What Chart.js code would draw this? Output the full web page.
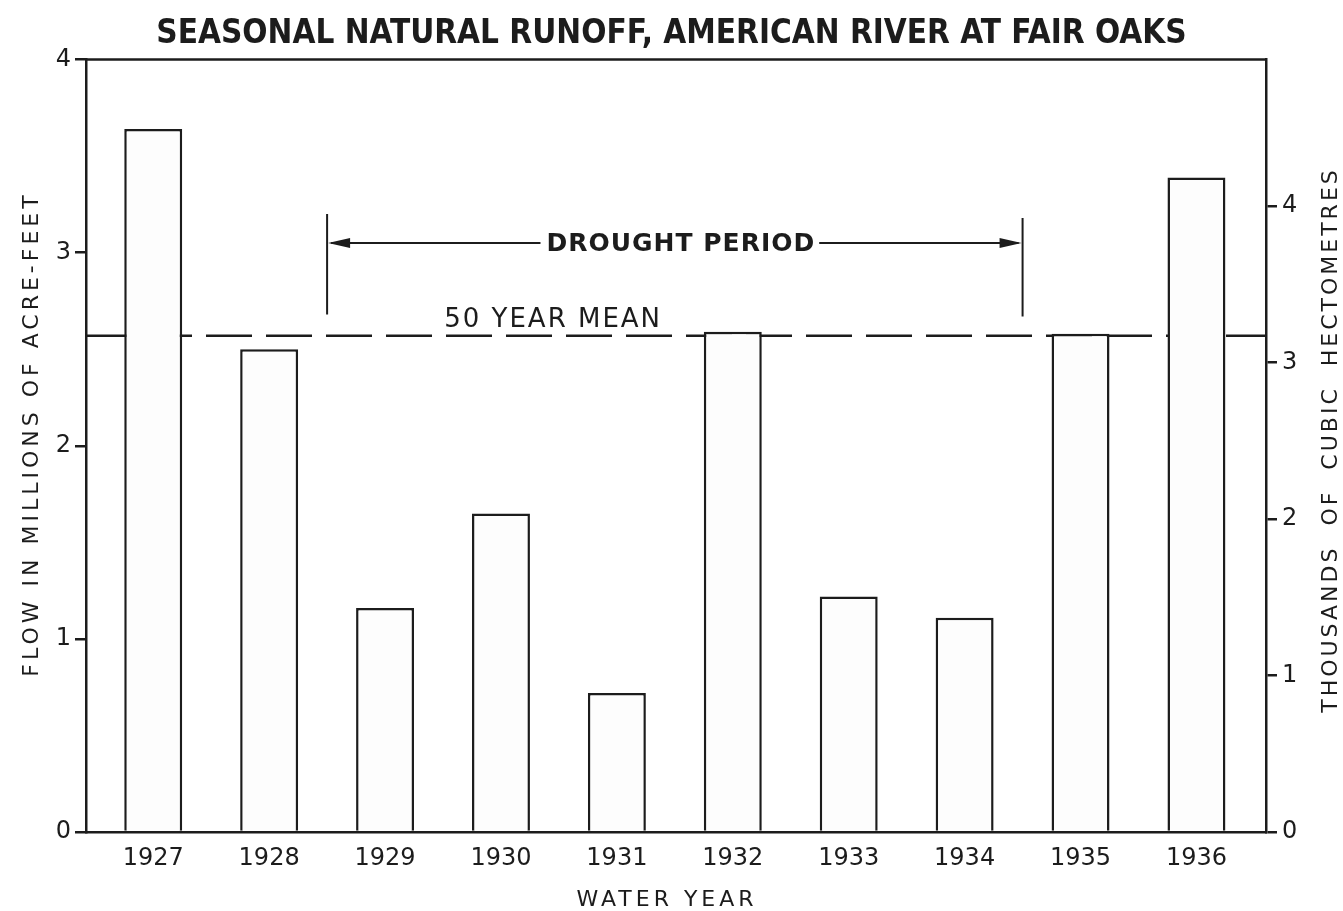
<!DOCTYPE html>
<html>
<head>
<meta charset="utf-8">
<title>Seasonal natural runoff, American River at Fair Oaks</title>
<script src="https://cdn.jsdelivr.net/npm/chart.js@4.4.1/dist/chart.umd.min.js"></script>
<style>
  html, body { margin: 0; padding: 0; background: #fff; }
  #wrap { width: 1343px; height: 911px; }
</style>
</head>
<body>
<div id="wrap"><canvas id="myChart"></canvas></div>
<script>
// values (millions of acre-feet)
const waterYears = [1927, 1928, 1929, 1930, 1931, 1932, 1933, 1934, 1935, 1936];
const runoffMaf = [3.64, 2.50, 1.16, 1.65, 0.72, 2.59, 1.22, 1.11, 2.58, 3.39];
const leftTicks = [0, 1, 2, 3, 4];
const rightTicks = [0, 1, 2, 3, 4];
const fiftyYearMean = 2.57;
const droughtFrom = 1928.5;
const droughtTo = 1934.5;

const ACRE_FT_TO_HM3 = 1.2335; // million acre-feet -> thousand cubic hectometres
const xMin = 1926.42, xMax = 1936.6;
const ink = '#1c1c1c';
const fam = "'DejaVu Sans', 'Liberation Sans', sans-serif";

const ctx = document.getElementById('myChart');

// white paper, frame top, drought arrows, mean label and axis titles
const platePlugin = {
    id: 'plate',
    beforeDraw(chart) {
        const c = chart.ctx;
        c.save();
        c.fillStyle = '#fff';
        c.fillRect(0, 0, chart.width, chart.height);
        c.restore();
    },
    afterDraw(chart) {
        const c = chart.ctx;
        const a = chart.chartArea;
        const x = chart.scales.x, y = chart.scales.y;
        c.save();
        c.strokeStyle = ink;
        c.fillStyle = ink;

        c.lineWidth = 2.5;
        c.beginPath();
        c.moveTo(a.left - 1, a.top);
        c.lineTo(a.right + 1, a.top);
        c.stroke();

        // drought period
        const x0 = x.getPixelForValue(droughtFrom);
        const x1 = x.getPixelForValue(droughtTo);
        const ya = y.getPixelForValue(3.05);
        c.lineWidth = 2;
        c.beginPath();
        c.moveTo(x0, y.getPixelForValue(3.2));
        c.lineTo(x0, y.getPixelForValue(2.68));
        c.moveTo(x1, y.getPixelForValue(3.18));
        c.lineTo(x1, y.getPixelForValue(2.67));
        c.stroke();

        c.font = 'bold 25px ' + fam;
        c.letterSpacing = '1px';
        c.textAlign = 'center';
        c.textBaseline = 'middle';
        const label = 'DROUGHT PERIOD';
        const w = c.measureText(label).width;
        const xm = (x0 + x1) / 2 + 6;
        c.fillText(label, xm, ya + 1);

        c.beginPath();
        c.moveTo(xm - w / 2 - 6, ya);
        c.lineTo(x0 + 4, ya);
        c.moveTo(xm + w / 2 + 4, ya);
        c.lineTo(x1 - 4, ya);
        c.stroke();
        c.beginPath();
        c.moveTo(x0 + 1, ya);
        c.lineTo(x0 + 23, ya - 5);
        c.lineTo(x0 + 23, ya + 5);
        c.closePath();
        c.moveTo(x1 - 1, ya);
        c.lineTo(x1 - 23, ya - 5);
        c.lineTo(x1 - 23, ya + 5);
        c.closePath();
        c.fill();

        // 50 year mean label
        c.font = '26px ' + fam;
        c.letterSpacing = '2px';
        c.textBaseline = 'alphabetic';
        c.fillText('50 YEAR MEAN', x.getPixelForValue(1930.45), y.getPixelForValue(fiftyYearMean) - 9);

        // axis titles
        c.font = '22px ' + fam;
        c.letterSpacing = '4px';
        c.textBaseline = 'middle';
        c.fillText('WATER YEAR', 667, 900);

        c.save();
        c.translate(32, 434);
        c.rotate(-Math.PI / 2);
        c.fillText('FLOW IN MILLIONS OF ACRE-FEET', 0, 0);
        c.restore();

        c.save();
        c.translate(1331, 440);
        c.rotate(-Math.PI / 2);
        c.letterSpacing = '3px';
        c.fillText('THOUSANDS  OF  CUBIC  HECTOMETRES', 0, 0);
        c.restore();

        c.restore();
    }
};

const tickGrid = {
    drawOnChartArea: false,
    drawTicks: true,
    tickLength: 11,
    color: ink,
    lineWidth: 2.5
};

new Chart(ctx, {
    type: 'bar',
    data: {
        datasets: [{
            type: 'bar',
            label: 'Seasonal natural runoff',
            data: waterYears.map((yr, i) => ({ x: yr, y: runoffMaf[i] })),
            backgroundColor: '#fdfdfd',
            borderColor: ink,
            borderWidth: 2.5,
            barPercentage: 0.5,
            categoryPercentage: 1,
            order: 1,
            yAxisID: 'y'
        }, {
            type: 'line',
            label: '50 year mean',
            data: [{ x: xMin, y: fiftyYearMean }, { x: xMax, y: fiftyYearMean }],
            borderColor: ink,
            borderWidth: 2.5,
            borderDash: [46, 14],
            pointRadius: 0,
            fill: false,
            order: 2,
            yAxisID: 'y'
        }]
    },
    options: {
        responsive: true,
        maintainAspectRatio: false,
        animation: false,
        events: [],
        layout: { padding: 0 },
        plugins: {
            legend: { display: false },
            tooltip: { enabled: false },
            title: {
                display: true,
                text: 'SEASONAL NATURAL RUNOFF, AMERICAN RIVER AT FAIR OAKS',
                color: ink,
                font: { family: "'Liberation Sans Narrow', 'DejaVu Sans Condensed', sans-serif", weight: 'bold', size: 33, lineHeight: 1.2 },
                padding: { top: 15, bottom: 5 }
            }
        },
        scales: {
            x: {
                type: 'linear',
                offset: false,
                min: xMin,
                max: xMax,
                afterBuildTicks: s => { s.ticks = waterYears.map(v => ({ value: v })); },
                afterFit: s => { s.height = 79; },
                grid: { display: false, drawTicks: false, offset: false },
                border: { display: true, color: ink, width: 2.5 },
                ticks: {
                    color: ink,
                    font: { family: fam, size: 24 },
                    padding: 12,
                    autoSkip: false,
                    maxRotation: 0,
                    callback: v => String(v)
                }
            },
            y: {
                position: 'left',
                min: 0,
                max: 4,
                afterBuildTicks: s => { s.ticks = leftTicks.map(v => ({ value: v })); },
                afterFit: s => { s.width = 86; },
                grid: tickGrid,
                border: { display: true, color: ink, width: 2.5 },
                ticks: { color: ink, font: { family: fam, size: 24 }, padding: 4 }
            },
            y2: {
                position: 'right',
                min: 0,
                max: 4 * ACRE_FT_TO_HM3,
                afterBuildTicks: s => { s.ticks = rightTicks.map(v => ({ value: v })); },
                afterFit: s => { s.width = 77; },
                grid: tickGrid,
                border: { display: true, color: ink, width: 2.5 },
                ticks: { color: ink, font: { family: fam, size: 24 }, padding: 5 }
            }
        }
    },
    plugins: [platePlugin]
});
</script>
</body>
</html>
